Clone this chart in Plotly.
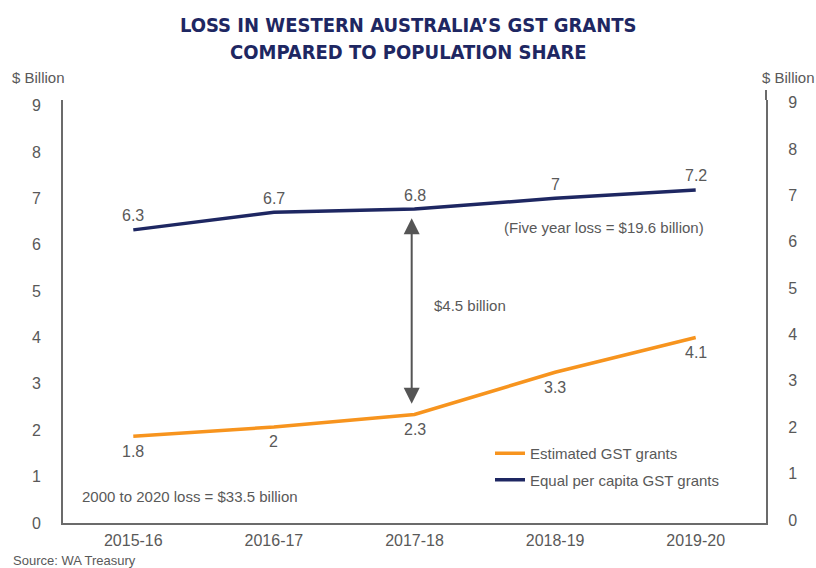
import plotly.graph_objects as go

# ---- data ----
years = ["2015-16", "2016-17", "2017-18", "2018-19", "2019-20"]
estimated_gst = [1.87, 2.07, 2.34, 3.25, 4.0]          # line positions
estimated_labels = ["1.8", "2", "2.3", "3.3", "4.1"]    # printed data labels
per_capita_gst = [6.32, 6.70, 6.77, 7.0, 7.18]
per_capita_labels = ["6.3", "6.7", "6.8", "7", "7.2"]
y_ticks = [0, 1, 2, 3, 4, 5, 6, 7, 8, 9]
title_lines = ["LOSS IN WESTERN AUSTRALIA’S GST GRANTS", "COMPARED TO POPULATION SHARE"]

NAVY = "#1e2762"
ORANGE = "#f7941e"
GREY = "#595959"
AXIS = "#6b6b6b"
FONT = "Liberation Sans, Arial, sans-serif"
TFONT = "DejaVu Sans Condensed, Liberation Sans, sans-serif"
FS = 15
TS = 16

fig = go.Figure()
fig.add_trace(go.Scatter(x=years, y=estimated_gst, mode="lines", name="Estimated GST grants",
                         legendgroup="a", line=dict(color=ORANGE, width=3.5)))
fig.add_trace(go.Scatter(x=years, y=per_capita_gst, mode="lines", name="Equal per capita GST grants",
                         legendgroup="b", line=dict(color=NAVY, width=3.5)))
# invisible trace to activate right axis
fig.add_trace(go.Scatter(x=years, y=per_capita_gst, yaxis="y2", mode="lines",
                         line=dict(width=0), opacity=0, showlegend=False, hoverinfo="skip"))

annotations = []
for x, y, t in zip(years, estimated_gst, estimated_labels):
    annotations.append(dict(x=x, y=y, text=t, showarrow=False, yshift=-15,
                            font=dict(size=TS, color=GREY, family=FONT)))
for x, y, t in zip(years, per_capita_gst, per_capita_labels):
    annotations.append(dict(x=x, y=y, text=t, showarrow=False, yshift=14,
                            font=dict(size=TS, color=GREY, family=FONT)))

# double-headed arrow between the series at 2017-18
annotations.append(dict(x=1.98, y=per_capita_gst[2] - 0.2, ax=1.98, ay=estimated_gst[2] + 0.2,
                        xref="x", yref="y", axref="x", ayref="y", text="", showarrow=True,
                        arrowhead=2, startarrowhead=2, arrowside="end+start",
                        arrowsize=1.6, startarrowsize=1.6, arrowwidth=2, arrowcolor="#555555"))

W, H = 816, 568
L, R, T, B = 63, 50, 100, 45
pw, ph = W - L - R, H - T - B


def px(x):
    return (x - L) / pw


def py(y):
    return (H - B - y) / ph


texts = [
    dict(x=432, y=305, text="$4.5 billion", xanchor="left"),
    dict(x=502, y=227, text="(Five year loss = $19.6 billion)", xanchor="left"),
    dict(x=80, y=496, text="2000 to 2020 loss = $33.5 billion", xanchor="left"),
    dict(x=38, y=78, text="$ Billion", xanchor="center"),
    dict(x=788, y=78, text="$ Billion", xanchor="center"),
]
for t in texts:
    annotations.append(dict(x=px(t["x"]), y=py(t["y"]), xref="paper", yref="paper",
                            text=t["text"], showarrow=False, xanchor=t["xanchor"], yanchor="middle",
                            font=dict(size=FS, color=GREY, family=FONT)))
# title lines
for line, yc in zip(title_lines, [25, 52]):
    annotations.append(dict(x=px(408), y=py(yc), xref="paper", yref="paper",
                            text="<b>" + line + "</b>", showarrow=False, xanchor="center",
                            yanchor="middle", font=dict(size=20, color=NAVY, family=TFONT)))
# source
annotations.append(dict(x=px(11), y=py(560), xref="paper", yref="paper",
                        text="Source: WA Treasury", showarrow=False, xanchor="left", yanchor="middle",
                        font=dict(size=13, color=GREY, family=FONT)))

fig.update_layout(
    width=W, height=H,
    margin=dict(l=L, r=R, t=T, b=B),
    paper_bgcolor="white", plot_bgcolor="white",
    xaxis=dict(type="category", range=[-0.5, 4.5], showgrid=False, zeroline=False,
               showline=True, linecolor=AXIS, linewidth=2, ticks="",
               tickfont=dict(size=TS, color=GREY, family=FONT), ticklabelstandoff=2),
    yaxis=dict(range=[0, 9.12], tickvals=y_ticks, showgrid=False, zeroline=False,
               showline=True, linecolor=AXIS, linewidth=2, ticks="",
               tickfont=dict(size=TS, color=GREY, family=FONT), ticklabelstandoff=17),
    yaxis2=dict(range=[0, 9.12], tickvals=y_ticks, overlaying="y", side="right",
                showgrid=False, zeroline=False, showline=True, linecolor=AXIS, linewidth=2,
                ticks="", tickfont=dict(size=TS, color=GREY, family=FONT),
                ticklabelstandoff=17, ticklabelshift=-3),
    showlegend=True,
    legend=dict(x=px(490), y=py(437), xanchor="left", yanchor="top",
                bgcolor="rgba(0,0,0,0)", font=dict(size=FS, color=GREY, family=FONT),
                tracegroupgap=4, traceorder="grouped"),
    annotations=annotations,
    shapes=[dict(type="line", xref="paper", yref="paper", x0=1, x1=1, y0=1, y1=1 + 10 / ph,
                 line=dict(color=AXIS, width=2))],
)

fig.write_html("out.html", post_script="document.body.style.margin='0px';",
               config={"displayModeBar": False})
